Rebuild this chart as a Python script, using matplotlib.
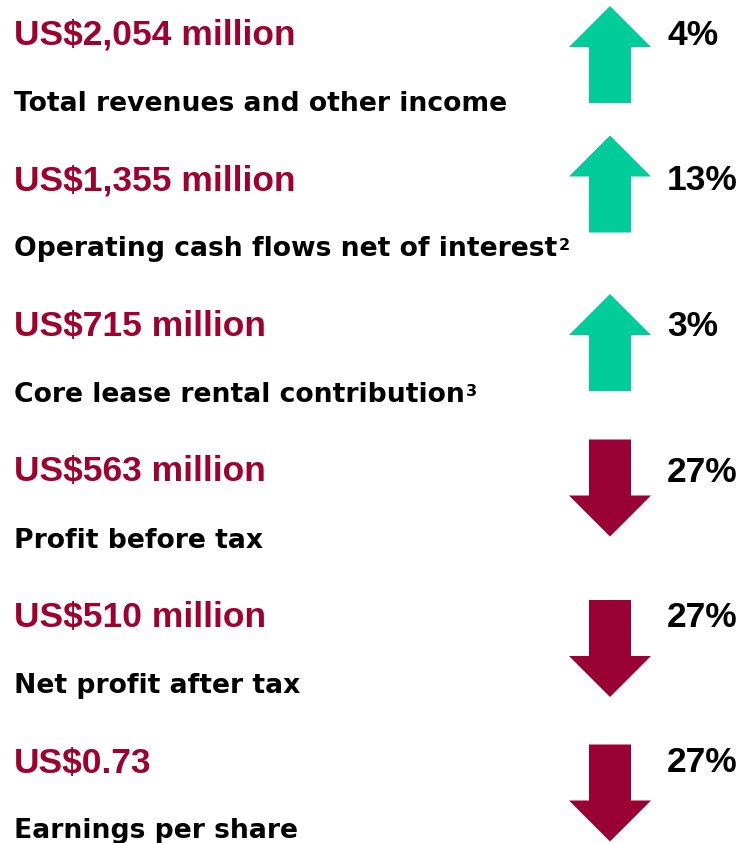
import matplotlib
matplotlib.use('Agg')
import matplotlib.pyplot as plt
import matplotlib.patches as mpatches

# figures shown on the slide
values = ['US$2,054 million', 'US$1,355 million', 'US$715 million',
          'US$563 million', 'US$510 million', 'US$0.73']
labels = ['Total revenues and other income',
          'Operating cash flows net of interest',
          'Core lease rental contribution',
          'Profit before tax', 'Net profit after tax', 'Earnings per share']
notes = ['', '2', '3', '', '', '']
changes = [4, 13, 3, 27, 27, 27]
direction = ['up', 'up', 'up', 'down', 'down', 'down']

green = '#00CC99'
maroon = '#990033'
red_text = '#A0002E'

plt.rcParams['font.family'] = ['Liberation Sans', 'DejaVu Sans']

W, H = 745, 843
fig = plt.figure(figsize=(W / 100, H / 100), dpi=100)
ax = fig.add_axes([0, 0, 1, 1])
ax.set_xlim(0, W)
ax.set_ylim(H, 0)
ax.axis('off')

row_step = 145.5
first_base = 45
label_gap = 66
arrow_top_off = [-39, -55, -42, -42, -27, -28]   # arrow top relative to value baseline
arrow_len = 97

renderer = fig.canvas.get_renderer()
inv = ax.transData.inverted()

for i in range(len(values)):
    base = first_base + i * row_step
    ax.text(14, base, values[i], color=red_text, fontsize=25.5, fontweight='bold',
            va='baseline', ha='left')
    lab = ax.text(14, base + label_gap, labels[i], color='black', fontsize=19.2,
                  fontweight='bold', va='baseline', ha='left',
                  family='DejaVu Sans')
    if notes[i]:
        bb = lab.get_window_extent(renderer)
        x_end = inv.transform((bb.x1, bb.y0))[0]
        ax.text(x_end + 1, base + label_gap - 6, notes[i], color='black',
                fontsize=11.5, fontweight='bold', va='baseline', ha='left',
                family='DejaVu Sans')
    ax.text(667, base, f'{changes[i]}%', color='black', fontsize=25.5,
            fontweight='bold', va='baseline', ha='left')

    top = base + arrow_top_off[i]
    if direction[i] == 'up':
        arr = mpatches.FancyArrow(610, top + arrow_len, 0, -arrow_len, width=42,
                                  head_width=82, head_length=41,
                                  length_includes_head=True, color=green, lw=0)
    else:
        arr = mpatches.FancyArrow(610, top, 0, arrow_len, width=42,
                                  head_width=82, head_length=41,
                                  length_includes_head=True, color=maroon, lw=0)
    ax.add_patch(arr)

fig.savefig('out.png', dpi=100)
